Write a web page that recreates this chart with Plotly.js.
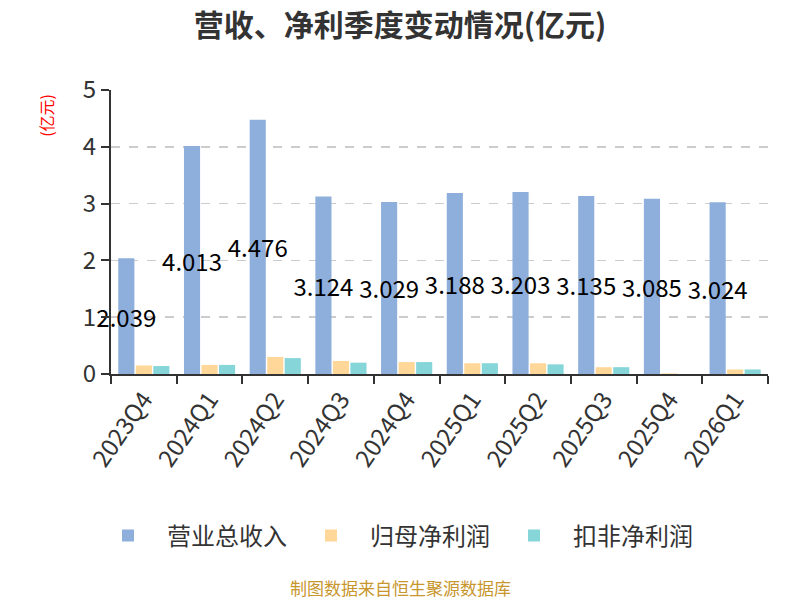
<!DOCTYPE html>
<html>
<head>
<meta charset="utf-8">
<script src="https://cdn.plot.ly/plotly-3.0.1.min.js"></script>
<style>html,body{margin:0;padding:0;background:#fff;}#chart{width:800px;height:600px;}</style>
</head>
<body>
<div id="chart"></div>
<script>
const categories = ["2023Q4","2024Q1","2024Q2","2024Q3","2024Q4","2025Q1","2025Q2","2025Q3","2025Q4","2026Q1"];
const revenue = [2.039, 4.013, 4.476, 3.124, 3.029, 3.188, 3.203, 3.135, 3.085, 3.024];
const netProfit = [0.15, 0.16, 0.30, 0.23, 0.21, 0.19, 0.19, 0.12, 0.01, 0.08];
const deductedProfit = [0.14, 0.16, 0.28, 0.20, 0.21, 0.19, 0.17, 0.12, 0.00, 0.08];
const seriesNames = ["营业总收入", "归母净利润", "扣非净利润"];
const yTicks = [0, 1, 2, 3, 4, 5];

const FONT = "'Noto Sans CJK SC', 'Noto Sans', sans-serif";

const traces = [
  {
    type: "bar", name: seriesNames[0], x: categories, y: revenue,
    marker: {color: "#8EAEDB"},
    text: revenue.map(v => v.toFixed(3)),
    textposition: "inside", insidetextanchor: "middle",
    textangle: 0, constraintext: "none", cliponaxis: false,
    insidetextfont: {family: FONT, size: 24, color: "#000"},
    hoverinfo: "x+y"
  },
  {
    type: "bar", name: seriesNames[1], x: categories, y: netProfit,
    marker: {color: "#FFD899"}, hoverinfo: "x+y"
  },
  {
    type: "bar", name: seriesNames[2], x: categories, y: deductedProfit,
    marker: {color: "#86D5D9"}, hoverinfo: "x+y"
  }
];

const layout = {
  width: 800, height: 600,
  paper_bgcolor: "#fff", plot_bgcolor: "#fff",
  font: {family: FONT, color: "#333"},
  title: {text: "<b>营收、净利季度变动情况(亿元)</b>", x: 0.5, xanchor: "center", y: 0.958, yanchor: "middle",
          font: {family: FONT, size: 30, color: "#333"}},
  margin: {l: 111, r: 32, t: 90, b: 226},
  barmode: "group", bargap: 0.2, bargroupgap: 0.08,
  showlegend: true,
  legend: {orientation: "h", x: 0.43, xanchor: "center", y: -0.57, yanchor: "middle",
           font: {family: FONT, size: 24, color: "#333"}, itemwidth: 68, traceorder: "normal"},
  xaxis: {
    type: "category", tickson: "boundaries", ticks: "outside", ticklen: 8, tickwidth: 2, tickcolor: "#333",
    showline: true, linecolor: "#333", linewidth: 2, showgrid: false,
    tickangle: -55, tickfont: {family: FONT, size: 24, color: "#333"}
  },
  yaxis: {
    range: [0, 5], tickvals: yTicks, ticks: "outside", ticklen: 8, tickwidth: 2, tickcolor: "#333",
    showline: true, linecolor: "#333", linewidth: 2,
    showgrid: true, gridcolor: "#ccc", griddash: "dash", gridwidth: 1.5,
    zeroline: false, tickfont: {family: FONT, size: 24, color: "#333"}
  },
  annotations: [
    {text: "(亿元)", xref: "paper", yref: "paper", x: -0.1, y: 0.91, xanchor: "center", yanchor: "middle",
     textangle: -90, showarrow: false, font: {family: FONT, size: 16, color: "#ff0000"}},
    {text: "制图数据来自恒生聚源数据库", xref: "paper", yref: "paper", x: 0.44, y: -0.75, showarrow: false,
     xanchor: "center", yanchor: "middle", font: {family: FONT, size: 17, color: "#C8962E"}}
  ]
};

Plotly.newPlot("chart", traces, layout, {displayModeBar: false, staticPlot: true});
</script>
</body>
</html>
